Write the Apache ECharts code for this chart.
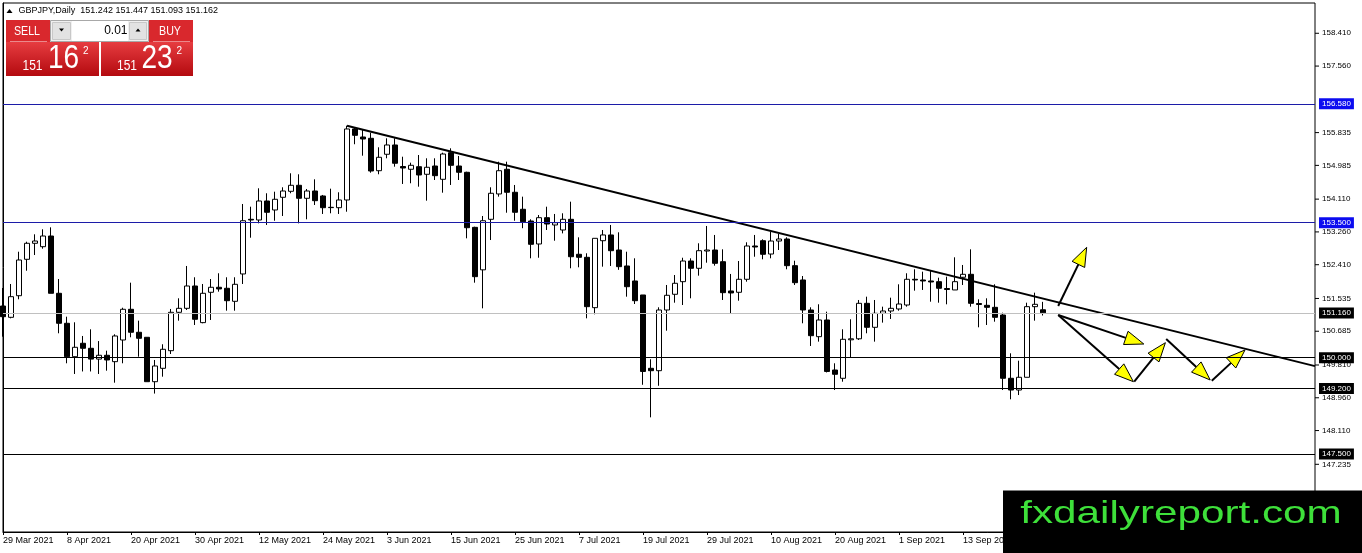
<!DOCTYPE html>
<html>
<head>
<meta charset="utf-8">
<script src="https://cdn.jsdelivr.net/npm/echarts@6/dist/echarts.min.js"></script>
<style>
html, body { margin: 0; padding: 0; background: #fff; }
#chart { width: 1362px; height: 553px; }
</style>
</head>
<body>
<div id="chart"></div>
<script>
// GBPJPY daily, one bar per weekday from 29 Mar 2021
var firstDay = [2021, 2, 29]
var barCount = 165 // bars + empty space on the right

var opens = [151.339,151.046,151.606,152.550,152.965,152.877,153.154,151.669,150.891,150.025,
	150.373,150.243,149.963,150.062,149.896,150.458,151.254,150.658,150.528,149.377,
	149.724,150.181,151.176,151.279,151.858,150.908,151.695,151.825,151.799,151.461,
	152.170,153.587,153.569,154.062,153.829,154.158,154.313,154.469,154.132,154.321,
	154.192,153.898,153.888,154.088,155.929,155.721,155.687,154.847,155.273,155.514,
	154.956,154.884,154.951,154.754,154.969,154.624,155.314,154.969,154.806,153.379,
	152.277,153.587,154.244,154.884,154.288,153.847,153.543,152.947,153.629,153.440,
	153.310,153.587,152.680,152.602,151.296,153.032,153.181,152.791,152.377,151.988,
	151.625,149.724,149.662,151.236,151.643,151.970,152.506,152.317,152.765,152.791,
	152.488,151.729,151.695,152.032,152.895,153.032,152.687,153.024,153.076,152.385,
	152.014,151.236,150.544,150.977,149.680,149.465,150.463,150.489,151.409,150.787,
	151.150,151.210,151.262,151.365,152.032,152.014,151.988,151.970,151.793,151.755,
	152.084,152.161,151.404,151.357,151.305,151.106,149.465,149.161,149.491,151.322,
	151.242]
var highs = [151.806,151.910,152.747,153.006,153.198,153.328,153.379,152.039,151.062,150.917,
	150.562,150.735,150.430,150.181,150.606,151.295,151.944,150.959,150.528,149.940,
	150.347,151.262,151.539,152.377,152.084,151.910,152.039,152.188,152.084,152.084,
	153.984,153.914,154.391,154.262,154.303,154.417,154.780,154.754,154.373,154.624,
	154.218,154.381,154.288,156.014,155.972,155.903,155.833,155.454,155.687,155.687,
	155.210,155.055,155.254,155.169,155.169,155.314,155.428,155.229,154.821,153.395,
	153.673,154.417,155.081,155.081,154.477,154.174,153.587,153.699,153.914,153.725,
	153.743,154.044,153.120,152.706,153.094,153.310,153.440,153.250,152.747,152.576,
	151.625,149.958,151.306,151.884,152.143,152.591,152.576,152.965,153.414,153.181,
	152.809,152.170,152.506,152.991,153.181,153.068,153.265,153.206,153.120,152.514,
	152.117,151.306,151.384,151.192,149.854,150.735,150.995,151.495,151.581,151.495,
	151.322,151.555,151.902,152.188,152.291,152.229,152.255,152.073,152.099,152.602,
	152.403,152.809,151.513,151.539,151.902,151.166,150.113,149.921,151.425,151.685,
	151.447]
var lows = [150.544,151.020,151.513,152.254,152.661,152.825,151.669,150.632,149.854,149.577,
	149.642,149.642,149.577,149.662,149.351,149.854,150.528,150.025,149.377,149.069,
	149.507,150.095,150.959,151.236,150.847,150.891,150.977,151.711,151.218,151.218,
	151.910,153.110,153.483,153.440,153.550,153.673,154.262,153.483,153.587,153.958,
	153.725,153.743,153.725,153.784,155.533,155.236,154.795,154.754,155.169,154.951,
	154.503,154.521,154.433,154.070,154.606,154.277,154.477,154.606,153.094,151.944,
	151.279,153.050,154.174,153.758,153.550,153.356,152.576,152.591,153.310,153.032,
	153.222,152.317,152.343,151.020,151.124,152.359,152.377,152.277,151.581,151.391,
	149.297,148.453,149.271,150.699,151.425,151.365,151.539,152.126,152.462,152.385,
	151.495,151.132,151.477,151.970,152.617,152.550,152.576,152.791,152.291,151.884,
	150.891,150.303,150.415,149.617,149.161,149.377,150.010,150.458,150.632,150.415,
	150.908,151.003,151.218,151.322,151.737,151.755,151.451,151.425,151.383,151.755,
	151.884,151.322,150.787,150.847,150.933,149.161,148.920,149.031,149.491,150.959,
	151.093]
var closes = [151.062,151.581,152.532,152.965,153.024,153.154,151.669,150.891,150.025,150.269,
	150.243,149.963,150.062,149.940,150.562,151.254,150.658,150.502,149.377,149.784,
	150.217,151.176,151.279,151.858,150.995,151.669,151.825,151.781,151.477,151.902,
	153.550,153.569,154.062,153.769,154.106,154.321,154.469,154.132,154.321,154.070,
	153.888,153.890,154.088,155.929,155.765,155.669,154.839,155.195,155.514,155.040,
	154.917,154.987,154.736,154.936,154.718,155.280,154.987,154.806,153.369,152.100,
	153.550,154.262,154.847,154.288,153.769,153.525,152.939,153.629,153.465,153.499,
	153.587,152.617,152.602,151.322,153.094,153.181,152.773,152.359,151.840,151.477,
	149.642,149.662,151.236,151.617,151.928,152.506,152.317,152.773,152.791,152.446,
	151.685,151.677,152.032,152.895,152.869,152.680,153.024,153.076,152.385,151.944,
	151.236,150.570,150.977,149.642,149.569,150.476,150.489,151.409,150.787,151.150,
	151.210,151.279,151.391,152.032,152.014,151.988,151.962,151.799,151.767,151.970,
	152.161,151.409,151.378,151.305,151.046,149.465,149.161,149.491,151.322,151.383,
	151.162]

// price scale ticks shown on the right
var priceTicks = [158.410, 157.560, 155.835, 154.985, 154.110, 153.260, 152.410,
	151.535, 150.685, 149.810, 148.960, 148.110, 147.235]
// horizontal levels
var blueLevels = [156.580, 153.500]
var blackLevels = [150.000, 149.200, 147.500]
var bidPrice = 151.162

// drawn objects, as [bar index, price]
var trendLine = [[43, 156.015], [164, 149.78]]
var arrows = [
	[131.9, 151.339, 135.46, 152.861],
	[131.9, 151.106, 142.6, 150.354],
	[131.9, 151.106, 141.3, 149.377],
	[141.4, 149.377, 145.3, 150.388],
	[145.4, 150.484, 150.9, 149.421],
	[151.1, 149.403, 155.25, 150.199]
]

var monthNames = ['Jan','Feb','Mar','Apr','May','Jun','Jul','Aug','Sep','Oct','Nov','Dec']
var dates = []
var day = new Date(Date.UTC(firstDay[0], firstDay[1], firstDay[2]))
while (dates.length < barCount) {
	var wd = day.getUTCDay()
	if (wd !== 0 && wd !== 6) {
		dates.push(day.getUTCDate() + ' ' + monthNames[day.getUTCMonth()] + ' ' + day.getUTCFullYear())
	}
	day.setUTCDate(day.getUTCDate() + 1)
}

var candles = opens.map(function(o, i) {
	return [o, closes[i], lows[i], highs[i]]
})

var FONT = '"Liberation Sans", Arial, sans-serif'

function levelLine(value, color, boxColor) {
	return {
		yAxis: value,
		lineStyle: { color: color, width: 1, type: 'solid' },
		label: {
			show: true,
			position: 'end',
			distance: 4,
			formatter: function(p) { return p.value.toFixed(3) },
			color: '#fff',
			backgroundColor: boxColor,
			padding: [2, 3, 1, 3],
			fontSize: 8,
			fontFamily: FONT
		}
	}
}

var levelData = []
blueLevels.forEach(function(v) { levelData.push(levelLine(v, '#1c1ca8', '#0c0cf0')) })
levelData.push(levelLine(bidPrice, '#c0c0c0', '#000'))
blackLevels.forEach(function(v) { levelData.push(levelLine(v, '#000', '#000')) })

function renderArrow(params, api) {
	var a = api.coord([api.value(0), api.value(1)])
	var b = api.coord([api.value(2), api.value(3)])
	var dx = b[0] - a[0]
	var dy = b[1] - a[1]
	var len = Math.sqrt(dx * dx + dy * dy)
	var ux = dx / len
	var uy = dy / len
	var hl = 19, hw = 7
	var bx = b[0] - ux * hl
	var by = b[1] - uy * hl
	return {
		type: 'group',
		children: [{
			type: 'line',
			shape: { x1: a[0], y1: a[1], x2: bx, y2: by },
			style: { stroke: '#000', lineWidth: 2 }
		}, {
			type: 'polygon',
			shape: { points: [[b[0], b[1]], [bx - uy * hw, by + ux * hw], [bx + uy * hw, by - ux * hw]] },
			style: { fill: '#ffff00', stroke: '#000', lineWidth: 1 }
		}]
	}
}

// short tick marks right of the price scale line
function renderTick(params, api) {
	var p = api.coord([barCount - 1, api.value(0)])
	return {
		type: 'line',
		shape: { x1: p[0], y1: p[1], x2: p[0] + 4, y2: p[1] },
		style: { stroke: '#000', lineWidth: 1 }
	}
}

var redFill = {
	type: 'linear', x: 0, y: 0, x2: 0, y2: 1,
	colorStops: [{ offset: 0, color: '#e63c40' }, { offset: 1, color: '#b30a0f' }]
}

// all panel texts are placed by their vertical middle
function txt(x, y, text, size, opt) {
	opt = opt || {}
	return {
		type: 'text',
		x: x, y: y,
		scaleX: opt.sx || 1,
		style: {
			text: text,
			fill: opt.fill || '#fff',
			font: size + 'px ' + FONT,
			textAlign: opt.align || 'left',
			textVerticalAlign: 'middle'
		}
	}
}

var panel = [
	// title line
	{ type: 'polygon', shape: { points: [[6.5, 13], [9.5, 9], [12.5, 13]] }, style: { fill: '#000' } },
	txt(18.5, 11, 'GBPJPY,Daily  151.242 151.447 151.093 151.162', 9, { fill: '#000' }),
	// sell side
	{ type: 'rect', shape: { x: 6, y: 20, width: 44, height: 22 }, style: { fill: '#d9282d' } },
	{ type: 'rect', shape: { x: 6, y: 42, width: 93, height: 34 }, style: { fill: redFill } },
	{ type: 'line', shape: { x1: 10, y1: 41.5, x2: 47, y2: 41.5 }, style: { stroke: 'rgba(255,255,255,0.45)', lineWidth: 1 } },
	txt(27, 31, 'SELL', 13, { align: 'center', sx: 0.82 }),
	txt(22.5, 65.5, '151', 15, { sx: 0.8 }),
	txt(48, 59, '16', 33, { sx: 0.85 }),
	txt(83, 51, '2', 10),
	// lot spinner
	{ type: 'rect', shape: { x: 50.5, y: 20.5, width: 98, height: 21 }, style: { fill: '#f0f0f0', stroke: '#a8a8a8', lineWidth: 1 } },
	{ type: 'rect', shape: { x: 52.5, y: 22.5, width: 18, height: 17 }, style: { fill: '#e2e2e2', stroke: '#c8c8c8', lineWidth: 1 } },
	{ type: 'rect', shape: { x: 72, y: 21, width: 56, height: 20 }, style: { fill: '#fff' } },
	{ type: 'rect', shape: { x: 129.5, y: 22.5, width: 17, height: 17 }, style: { fill: '#e2e2e2', stroke: '#c8c8c8', lineWidth: 1 } },
	{ type: 'polygon', shape: { points: [[59, 28.5], [64, 28.5], [61.5, 31.5]] }, style: { fill: '#000' } },
	{ type: 'polygon', shape: { points: [[135.5, 31.5], [140.5, 31.5], [138, 28.5]] }, style: { fill: '#000' } },
	txt(127.5, 31, '0.01', 12, { fill: '#000', align: 'right' }),
	// buy side
	{ type: 'rect', shape: { x: 149, y: 20, width: 44, height: 22 }, style: { fill: '#d9282d' } },
	{ type: 'rect', shape: { x: 101, y: 42, width: 92, height: 34 }, style: { fill: redFill } },
	{ type: 'line', shape: { x1: 153, y1: 41.5, x2: 190, y2: 41.5 }, style: { stroke: 'rgba(255,255,255,0.45)', lineWidth: 1 } },
	txt(170, 31, 'BUY', 13, { align: 'center', sx: 0.82 }),
	txt(117, 65.5, '151', 15, { sx: 0.8 }),
	txt(141.5, 59, '23', 33, { sx: 0.85 }),
	txt(176.5, 51, '2', 10),
	// site mark
	{ type: 'rect', shape: { x: 1003, y: 490.5, width: 359, height: 63 }, style: { fill: '#000' } },
	txt(1181, 514, 'fxdailyreport.com', 32, { fill: '#3ee03a', align: 'center', sx: 1.32 })
]
panel.forEach(function(el) { el.z = 100 })

var myEchart = echarts.init(document.getElementById('chart'))
var option = {
	animation: false,
	backgroundColor: '#fff',
	grid: {
		left: 3, right: 47, top: 3, bottom: 21,
		show: true,
		borderColor: '#000',
		borderWidth: 1
	},
	xAxis: [{
		type: 'category',
		data: dates,
		boundaryGap: false,
		axisLine: { lineStyle: { color: '#000', width: 1 } },
		axisTick: { show: true, interval: 7, length: 3, lineStyle: { color: '#000' } },
		axisLabel: {
			interval: 7,
			align: 'left',
			margin: 4,
			color: '#000',
			fontSize: 9,
			fontFamily: FONT,
			showMaxLabel: false
		},
		splitLine: { show: false }
	}, {
		type: 'value',
		min: 0,
		max: barCount - 1,
		show: false
	}],
	yAxis: {
		type: 'value',
		position: 'right',
		min: 145.48,
		max: 159.195,
		axisLine: { show: true, lineStyle: { color: '#000', width: 1 } },
		axisTick: { show: false },
		axisLabel: {
			customValues: priceTicks,
			margin: 7,
			color: '#000',
			fontSize: 8,
			fontFamily: FONT,
			formatter: function(v) { return v.toFixed(3) }
		},
		splitLine: { show: false }
	},
	graphic: panel,
	series: [{
		name: 'GBPJPY',
		type: 'candlestick',
		xAxisIndex: 0,
		data: candles,
		barWidth: 5,
		itemStyle: {
			color: '#fff',
			color0: '#000',
			borderColor: '#000',
			borderColor0: '#000',
			borderColorDoji: '#000',
			borderWidth: 1
		}
	}, {
		name: 'trend',
		type: 'line',
		xAxisIndex: 1,
		data: trendLine,
		symbol: 'none',
		silent: true,
		z: 3,
		lineStyle: { color: '#000', width: 2 },
		markLine: {
			silent: true,
			symbol: 'none',
			animation: false,
			data: levelData
		}
	}, {
		name: 'arrows',
		type: 'custom',
		xAxisIndex: 1,
		data: arrows,
		encode: { x: [0, 2], y: [1, 3] },
		renderItem: renderArrow,
		silent: true,
		z: 4
	}, {
		name: 'scale ticks',
		type: 'custom',
		xAxisIndex: 1,
		data: priceTicks.map(function(v) { return [v] }),
		encode: { y: 0 },
		renderItem: renderTick,
		clip: false,
		silent: true
	}]
}
myEchart.setOption(option)
</script>
</body>
</html>
